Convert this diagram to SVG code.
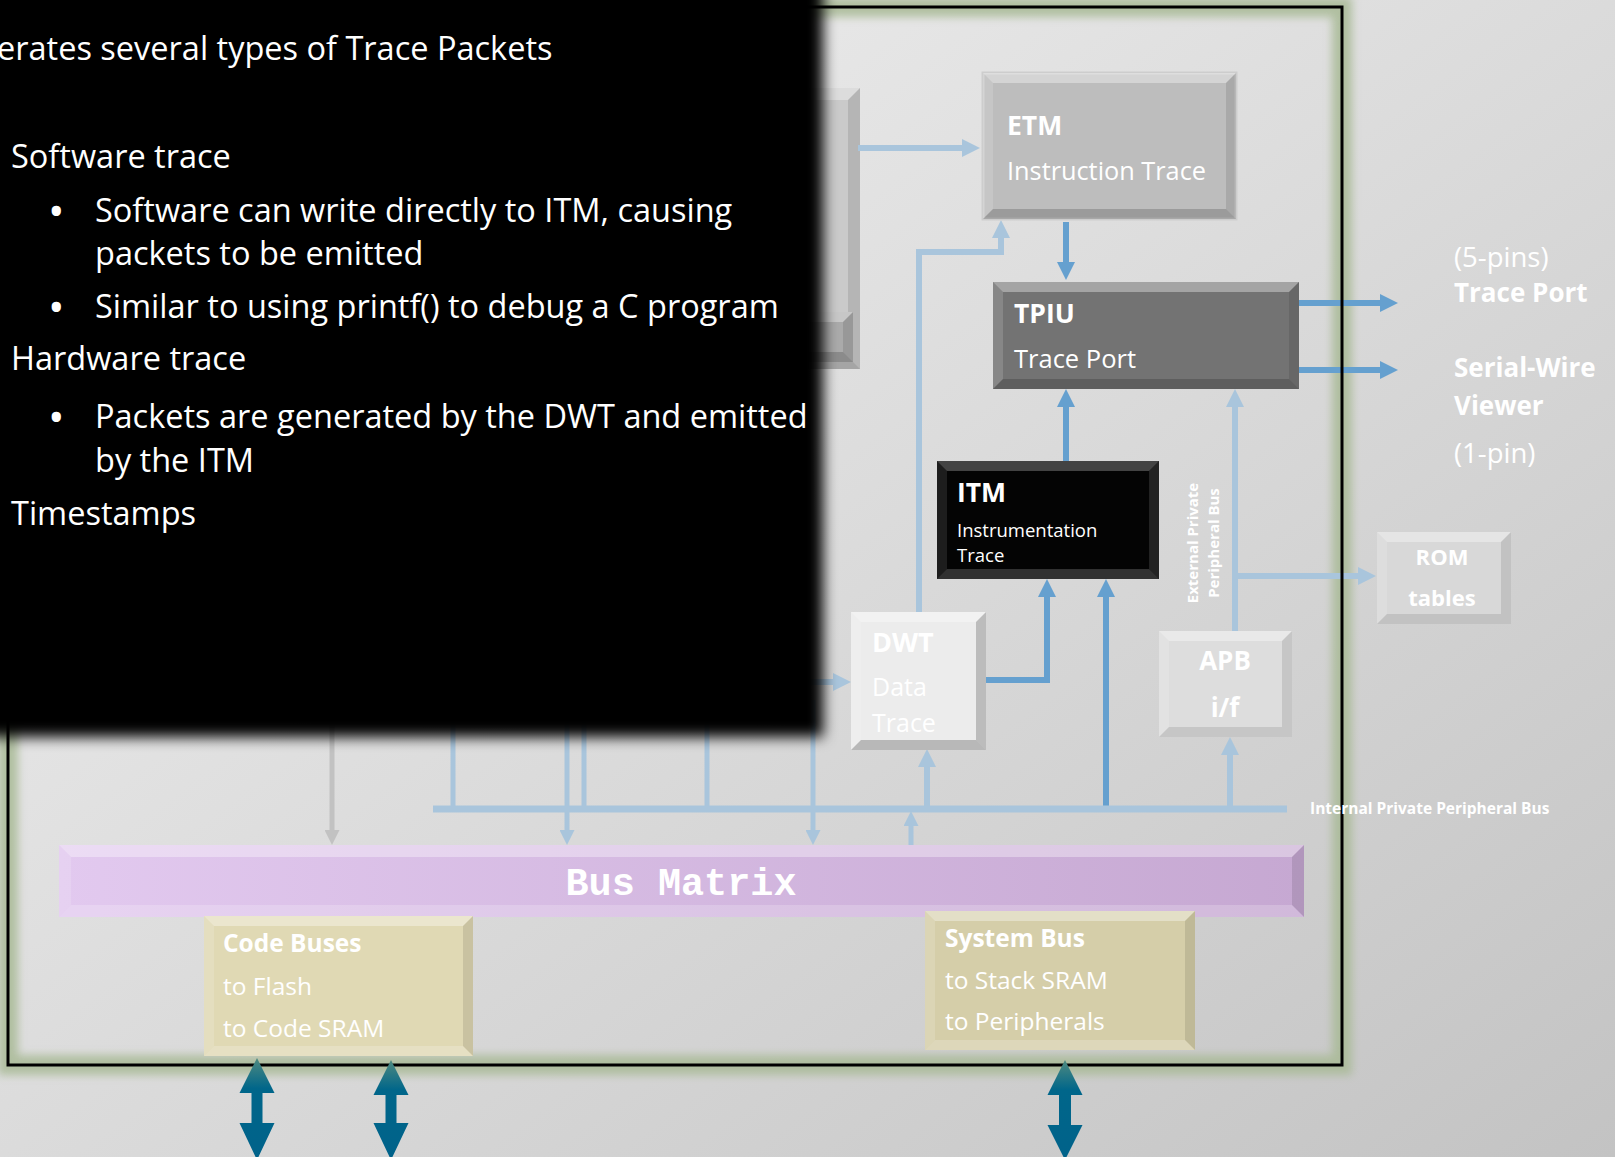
<svg xmlns="http://www.w3.org/2000/svg" width="1615" height="1157" viewBox="0 0 1615 1157">
<defs>
  <linearGradient id="bg" x1="0" y1="0" x2="1" y2="1">
    <stop offset="0" stop-color="#f3f3f3"/>
    <stop offset="1" stop-color="#c3c3c3"/>
  </linearGradient>
  <linearGradient id="bm" x1="0" y1="0" x2="1" y2="0">
    <stop offset="0" stop-color="#e2c9ef"/>
    <stop offset="1" stop-color="#c6a8d2"/>
  </linearGradient>
  <linearGradient id="teal" x1="0" y1="0" x2="0" y2="1">
    <stop offset="0" stop-color="#4f8a80"/>
    <stop offset="0.3" stop-color="#00668a"/>
    <stop offset="1" stop-color="#00628a"/>
  </linearGradient>
  <filter id="glow" x="-5%" y="-5%" width="110%" height="110%">
    <feGaussianBlur stdDeviation="4"/>
  </filter>
  <filter id="soft" filterUnits="userSpaceOnUse" x="-100" y="-100" width="1000" height="900">
    <feGaussianBlur stdDeviation="7"/>
  </filter>
  <marker id="aL" viewBox="0 0 10 10" refX="0" refY="5" markerWidth="3" markerHeight="3" orient="auto" markerUnits="strokeWidth">
    <path d="M0,0 L10,5 L0,10 z" fill="#a9c5dc"/>
  </marker>
  <marker id="aD" viewBox="0 0 10 10" refX="0" refY="5" markerWidth="3" markerHeight="3" orient="auto" markerUnits="strokeWidth">
    <path d="M0,0 L10,5 L0,10 z" fill="#65a0cf"/>
  </marker>
  <marker id="aG" viewBox="0 0 10 10" refX="0" refY="5" markerWidth="3" markerHeight="3" orient="auto" markerUnits="strokeWidth">
    <path d="M0,0 L10,5 L0,10 z" fill="#c2c2c2"/>
  </marker>
  <style>
    .lt { fill: none; stroke: #a9c5dc; stroke-width: 6; }
    .lv { fill: none; stroke: #a9c5dc; stroke-width: 5; }
    .dk { fill: none; stroke: #65a0cf; stroke-width: 6; }
    .gy { fill: none; stroke: #c2c2c2; stroke-width: 5; }
    .bt { fill: #ffffff; fill-opacity: 0.35; }
    .bl { fill: #ffffff; fill-opacity: 0.15; }
    .bb { fill: #000000; fill-opacity: 0.18; }
    .br { fill: #000000; fill-opacity: 0.10; }
    .t { font-family: "Open Sans", "Liberation Sans", sans-serif; fill: #ffffff; }
    .b { font-weight: bold; }
    .pn { font-family: "Open Sans", "Liberation Sans", sans-serif; fill: #ffffff; font-size: 32.5px; }
    .bu { font-family: "Open Sans", "Liberation Sans", sans-serif; fill: #ffffff; font-size: 44px; }
    .dbl { fill: url(#teal); }
  </style>
</defs>

<rect x="0" y="0" width="1615" height="1157" fill="url(#bg)"/>

<!-- frame glow -->
<rect x="8" y="7" width="1334" height="1058" fill="none" stroke="#a9ba96" stroke-width="20" filter="url(#glow)" opacity="0.85"/>

<!-- partially hidden core box -->
<g id="core">
  <rect x="560" y="88" width="300" height="281" fill="#cacaca"/>
  <polygon class="bt" points="560,88 860,88 848,100 572,100"/>
  <polygon class="br" points="860,88 848,100 848,357 860,369"/>
  <polygon class="bb" points="560,369 860,369 848,357 572,357"/>
  <rect x="600" y="312" width="253" height="50" fill="#aaaaaa"/>
  <polygon class="bt" points="600,312 853,312 843,322 610,322"/>
  <polygon class="br" points="853,312 843,322 843,352 853,362"/>
  <polygon class="bb" points="600,362 853,362 843,352 610,352"/>
</g>

<g id="connectors">
  <line class="lt" x1="858" y1="148" x2="962" y2="148" marker-end="url(#aL)"/>
  <line class="dk" x1="1066" y1="222" x2="1066" y2="262" marker-end="url(#aD)"/>
  <path class="lt" d="M919,612 V252 H1001 V238" marker-end="url(#aL)"/>
  <line class="dk" x1="1066" y1="461" x2="1066" y2="407" marker-end="url(#aD)"/>
  <line class="lt" x1="1235" y1="631" x2="1235" y2="407" marker-end="url(#aL)"/>
  <line class="lt" x1="1235" y1="576" x2="1358" y2="576" marker-end="url(#aL)"/>
  <line class="dk" x1="1299" y1="303" x2="1380" y2="303" marker-end="url(#aD)"/>
  <line class="dk" x1="1299" y1="370" x2="1380" y2="370" marker-end="url(#aD)"/>
  <path class="dk" d="M986,680 H1047 V597" marker-end="url(#aD)"/>
  <line class="dk" x1="1106" y1="809" x2="1106" y2="597" marker-end="url(#aD)"/>
  <line class="lt" x1="433" y1="809" x2="1287" y2="809" style="stroke-width:7"/>
  <line class="lt" x1="927" y1="809" x2="927" y2="767" marker-end="url(#aL)"/>
  <line class="lt" x1="1230" y1="809" x2="1230" y2="755" marker-end="url(#aL)"/>
  <line class="lv" x1="911" y1="845" x2="911" y2="826" marker-end="url(#aL)"/>
  <line class="lt" x1="800" y1="682" x2="833" y2="682" marker-end="url(#aL)"/>
  <line class="gy" x1="332" y1="700" x2="332" y2="830" marker-end="url(#aG)"/>
  <line class="lv" x1="453" y1="700" x2="453" y2="809"/>
  <line class="lv" x1="567" y1="700" x2="567" y2="830" marker-end="url(#aL)"/>
  <line class="lv" x1="584" y1="700" x2="584" y2="809"/>
  <line class="lv" x1="707" y1="700" x2="707" y2="809"/>
  <line class="lv" x1="813" y1="700" x2="813" y2="830" marker-end="url(#aL)"/>
</g>

<!-- frame line -->
<rect x="8" y="7" width="1334" height="1058" fill="none" stroke="#000000" stroke-width="3"/>

<g id="etm">
  <rect x="983" y="73" width="253" height="146" fill="#bdbdbd" stroke="#cdcdcd" stroke-width="3"/>
  <polygon class="bt" points="983,73 1236,73 1226,83 993,83"/>
  <polygon class="bl" points="983,73 993,83 993,209 983,219"/>
  <polygon class="br" points="1236,73 1226,83 1226,209 1236,219"/>
  <polygon class="bb" points="983,219 1236,219 1226,209 993,209"/>
  <text class="t b" x="1007" y="135" font-size="26.5">ETM</text>
  <text class="t" x="1007" y="180" font-size="25.3">Instruction Trace</text>
</g>

<g id="tpiu">
  <rect x="993" y="282" width="306" height="107" fill="#737373"/>
  <polygon class="bt" points="993,282 1299,282 1289,292 1003,292"/>
  <polygon class="bl" points="993,282 1003,292 1003,379 993,389"/>
  <polygon class="br" points="1299,282 1289,292 1289,379 1299,389"/>
  <polygon class="bb" points="993,389 1299,389 1289,379 1003,379"/>
  <text class="t b" x="1014" y="323" font-size="26.5">TPIU</text>
  <text class="t" x="1014" y="368" font-size="25.5">Trace Port</text>
</g>

<g id="itm">
  <rect x="937" y="461" width="222" height="118" fill="#040404"/>
  <polygon class="bt" points="937,461 1159,461 1149,471 947,471" style="fill-opacity:0.25"/>
  <polygon class="bl" points="937,461 947,471 947,569 937,579" style="fill-opacity:0.1"/>
  <polygon class="bl" points="1159,461 1149,471 1149,569 1159,579" style="fill-opacity:0.12"/>
  <polygon class="bt" points="937,579 1159,579 1149,569 947,569" style="fill-opacity:0.18"/>
  <text class="t b" x="957" y="502" font-size="26.5">ITM</text>
  <text class="t" x="957" y="537" font-size="18.5">Instrumentation</text>
  <text class="t" x="957" y="562" font-size="18.5">Trace</text>
</g>

<g id="dwt">
  <rect x="851" y="612" width="135" height="138" fill="#ececec"/>
  <polygon class="bt" points="851,612 986,612 976,622 861,622"/>
  <polygon class="bl" points="851,612 861,622 861,740 851,750"/>
  <polygon class="br" points="986,612 976,622 976,740 986,750" style="fill-opacity:0.2"/>
  <polygon class="bb" points="851,750 986,750 976,740 861,740" style="fill-opacity:0.22"/>
  <text class="t b" x="872" y="652" font-size="27">DWT</text>
  <text class="t" x="872" y="696" font-size="25">Data</text>
  <text class="t" x="872" y="732" font-size="25">Trace</text>
</g>

<g id="apb">
  <rect x="1159" y="631" width="133" height="106" fill="#dddddd"/>
  <polygon class="bt" points="1159,631 1292,631 1282,641 1169,641"/>
  <polygon class="bl" points="1159,631 1169,641 1169,727 1159,737"/>
  <polygon class="br" points="1292,631 1282,641 1282,727 1292,737"/>
  <polygon class="bb" points="1159,737 1292,737 1282,727 1169,727" style="fill-opacity:0.1"/>
  <text class="t b" x="1225" y="670" font-size="26" text-anchor="middle">APB</text>
  <text class="t b" x="1225" y="717" font-size="26" text-anchor="middle">i/f</text>
</g>

<g id="rom">
  <rect x="1377" y="532" width="134" height="92" fill="#d8d8d8"/>
  <polygon class="bt" points="1377,532 1511,532 1501,542 1387,542"/>
  <polygon class="bl" points="1377,532 1387,542 1387,614 1377,624"/>
  <polygon class="br" points="1511,532 1501,542 1501,614 1511,624"/>
  <polygon class="bb" points="1377,624 1511,624 1501,614 1387,614" style="fill-opacity:0.1"/>
  <text class="t b" x="1442" y="565" font-size="22" text-anchor="middle">ROM</text>
  <text class="t b" x="1442" y="606" font-size="22" text-anchor="middle">tables</text>
</g>

<g id="bus-matrix">
  <rect x="59" y="845" width="1245" height="72" fill="url(#bm)"/>
  <polygon class="bt" points="59,845 1304,845 1292,857 71,857"/>
  <polygon class="bl" points="59,845 71,857 71,905 59,917"/>
  <polygon class="br" points="1304,845 1292,857 1292,905 1304,917"/>
  <polygon class="bt" points="59,917 1304,917 1292,905 71,905" style="fill-opacity:0.2"/>
  <text x="681" y="895" font-family="'Liberation Mono', 'DejaVu Sans Mono', monospace" font-weight="bold" font-size="38.5" fill="#ffffff" text-anchor="middle">Bus Matrix</text>
</g>

<g id="code-buses">
  <rect x="204" y="916" width="269" height="140" fill="#e0d9b4"/>
  <polygon class="bt" points="204,916 473,916 463,926 214,926"/>
  <polygon class="bl" points="204,916 214,926 214,1046 204,1056"/>
  <polygon class="br" points="473,916 463,926 463,1046 473,1056"/>
  <polygon class="bt" points="204,1056 473,1056 463,1046 214,1046" style="fill-opacity:0.2"/>
  <text class="t b" x="223" y="952" font-size="24.5">Code Buses</text>
  <text class="t" x="223" y="995" font-size="24.5">to Flash</text>
  <text class="t" x="223" y="1037" font-size="24.5">to Code SRAM</text>
</g>

<g id="system-bus">
  <rect x="925" y="911" width="270" height="139" fill="#d5cea9"/>
  <polygon class="bt" points="925,911 1195,911 1185,921 935,921"/>
  <polygon class="bl" points="925,911 935,921 935,1040 925,1050"/>
  <polygon class="br" points="1195,911 1185,921 1185,1040 1195,1050"/>
  <polygon class="bt" points="925,1050 1195,1050 1185,1040 935,1040" style="fill-opacity:0.2"/>
  <text class="t b" x="945" y="947" font-size="24.5">System Bus</text>
  <text class="t" x="945" y="989" font-size="24.5">to Stack SRAM</text>
  <text class="t" x="945" y="1030" font-size="24.5">to Peripherals</text>
</g>

<g id="io-arrows">
  <polygon class="dbl" points="257,1058 274.5,1093 262.5,1093 262.5,1123 274.5,1123 257,1160 239.5,1123 251.5,1123 251.5,1093 239.5,1093"/>
  <polygon class="dbl" points="391,1060 408.5,1095 396.5,1095 396.5,1123 408.5,1123 391,1160 373.5,1123 385.5,1123 385.5,1095 373.5,1095"/>
  <polygon class="dbl" points="1065,1060 1082.5,1095 1071,1095 1071,1125 1082.5,1125 1065,1160 1047.5,1125 1059,1125 1059,1095 1047.5,1095"/>
</g>

<g id="labels">
  <text class="t" x="1454" y="267" font-size="27.5">(5-pins)</text>
  <text class="t b" x="1454" y="302" font-size="26">Trace Port</text>
  <text class="t b" x="1454" y="377" font-size="26">Serial-Wire</text>
  <text class="t b" x="1454" y="415" font-size="26">Viewer</text>
  <text class="t" x="1454" y="463" font-size="27.5">(1-pin)</text>
  <text class="t b" x="1310" y="814" font-size="15.5">Internal Private Peripheral Bus</text>
  <text class="t b" font-size="15" text-anchor="middle" transform="translate(1198,543) rotate(-90)">External Private</text>
  <text class="t b" font-size="15" text-anchor="middle" transform="translate(1219,543) rotate(-90)">Peripheral Bus</text>
</g>

<!-- overlay text panel -->
<g id="panel">
  <rect x="-60" y="-60" width="883" height="797" fill="#000000" filter="url(#soft)"/>
  <text class="pn" x="-3" y="60">erates several types of Trace Packets</text>
  <text class="pn" x="11" y="168">Software trace</text>
  <text class="bu" x="48" y="227">•</text>
  <text class="pn" x="95" y="222">Software can write directly to ITM, causing</text>
  <text class="pn" x="95" y="265">packets to be emitted</text>
  <text class="bu" x="48" y="323">•</text>
  <text class="pn" x="95" y="318">Similar to using printf() to debug a C program</text>
  <text class="pn" x="11" y="370">Hardware trace</text>
  <text class="bu" x="48" y="433">•</text>
  <text class="pn" x="95" y="428">Packets are generated by the DWT and emitted</text>
  <text class="pn" x="95" y="472">by the ITM</text>
  <text class="pn" x="11" y="525">Timestamps</text>
</g>
</svg>
